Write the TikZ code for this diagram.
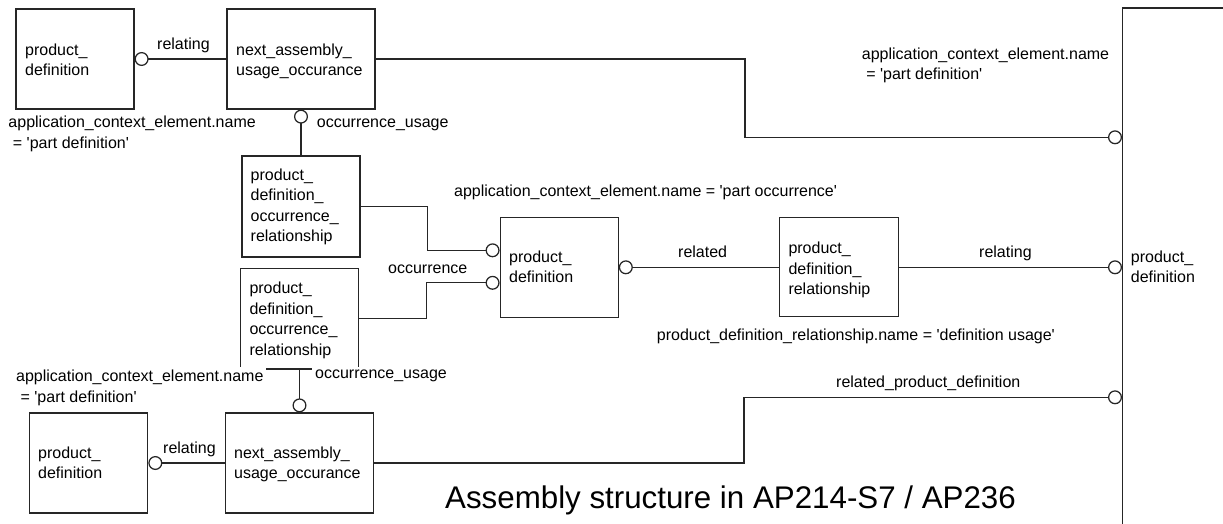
\documentclass[tikz,border=0pt]{standalone}
\usepackage{fontspec}
\setmainfont{Liberation Sans}
\usetikzlibrary{arrows.meta,calc}
\newcommand\stq{\textquotesingle}

\begin{document}
\begin{tikzpicture}[x=1pt,y=-1pt,
  ent/.style={draw=black!85, line width=1.25pt, rectangle, inner sep=0pt,
              minimum width=118pt, minimum height=100pt},
  conn/.style={draw=black!85, line width=1.25pt},
  ring/.tip={Circle[open,length=14pt,width=14pt]},
  txt/.style={inner sep=0pt, font=\fontsize{16}{20.5}\selectfont, align=left},
  mask/.style={txt, fill=white, inner sep=3pt},
]
\useasboundingbox (0,0) rectangle (1223,523);
\clip (0,0) rectangle (1223,523);

% entity boxes
\node[ent] (pd1) at (75,59) {};
\node[ent, minimum width=148pt] (nauo1) at (301,59) {};
\node[ent, minimum height=101pt] (pdor1) at (301,206.5) {};
\node[ent, minimum width=118.4pt, minimum height=100.7pt] (pdor2) at (299.5,318.7) {};
\node[ent] (pd) at (559.2,267.3) {};
\node[ent, minimum width=119pt, minimum height=99pt] (pdr) at (838.8,267.3) {};
\node[ent, minimum width=118.4pt] (pd3) at (88.5,463) {};
\node[ent, minimum width=147.6pt] (nauo2) at (299.5,463) {};
\node[ent, minimum width=300pt, minimum height=700pt, anchor=north west] (pdbig) at (1122,7.3) {};

% entity names
\node[txt, anchor=north west] (tpd1) at (25,43.4) {product\_\\definition};
\node[txt, anchor=north west] (tnauo1) at (236,43.4) {next\_assembly\_\\usage\_occurance};
\node[txt, anchor=north west] (tpdor1) at (250.5,168.4) {product\_\\definition\_\\occurrence\_\\relationship};
\node[txt, anchor=north west] (tpdor2) at (249.3,281.7) {product\_\\definition\_\\occurrence\_\\relationship};
\node[txt, anchor=north west] (tpd) at (509,250.4) {product\_\\definition};
\node[txt, anchor=north west] (tpdr) at (788.3,241.7) {product\_\\definition\_\\relationship};
\node[txt, anchor=north west] (tpd3) at (38,446.4) {product\_\\definition};
\node[txt, anchor=north west] (tnauo2) at (234,446.4) {next\_assembly\_\\usage\_occurance};
\node[txt, anchor=north west] (tpdbig) at (1130.7,250.4) {product\_\\definition};

% bend points of the long connectors
\coordinate (k1) at (745,137.3);
\coordinate (k2) at (744,397.3);
\coordinate (pdin1) at ([yshift=17pt]pd.west);
\coordinate (pdin2) at ([yshift=-15.5pt]pd.west);

% connectors
\draw[conn, ring-] (pd1.east) -- (nauo1.west);
\draw[conn, ring-] (nauo1.south) -- (pdor1.north);
\draw[conn, -ring] (nauo1.east) -| (k1) -- (k1 -| pdbig.west);
\draw[conn, -ring] (pdor1.east) -- ++(67,0) |- (pdin1);
\draw[conn, -ring] (pdor2.east) -- ++(67.4,0) |- (pdin2);
\draw[conn, ring-] (pd.east) -- (pdr.west);
\draw[conn, -ring] (pdr.east) -- (pdr.east -| pdbig.west);
\draw[conn, -ring] (pdor2.south) -- (nauo2.north);
\draw[conn, ring-] (pd3.east) -- (nauo2.west);
\draw[conn, -ring] (nauo2.east) -| (k2) -- (k2 -| pdbig.west);

% role and rule labels
\node[txt, anchor=base west] (lrel1) at (157,49.3) {relating};
\node[txt, anchor=base west] (locc1) at (316.7,127.7) {occurrence\_usage};
\node[txt, anchor=north west] (lace1) at (8.3,116.1)
  {application\_context\_element.name\\\ = \stq part definition\stq};
\node[txt, anchor=north west] (lace2) at (861.7,47.4)
  {application\_context\_element.name\\\ = \stq part definition\stq};
\node[txt, anchor=base west] (lpocc) at (454,196)
  {application\_context\_element.name = \stq part occurrence\stq};
\node[txt, anchor=base west] (locc) at (388,273) {occurrence};
\node[txt, anchor=base west] (lrelated) at (678,257) {related};
\node[txt, anchor=base west] (lrel2) at (979,257) {relating};
\node[txt, anchor=base west] (lpdrname) at (656.7,340)
  {product\_definition\_relationship.name = \stq definition usage\stq};
\node[mask, anchor=north west] (lace3) at (13,367.1)
  {application\_context\_element.name\\\ = \stq part definition\stq};
\node[mask, anchor=base west] (locc2) at (312,378.3) {occurrence\_usage};
\node[txt, anchor=base west] (lrel3) at (163,453) {relating};
\node[txt, anchor=base west] (lrpd) at (836,387.3) {related\_product\_definition};

% title
\node[inner sep=0pt, anchor=base west, font=\fontsize{31.3}{36}\selectfont] (title)
  at (445,508.3) {Assembly structure in AP214-S7 / AP236};
\end{tikzpicture}
\end{document}
